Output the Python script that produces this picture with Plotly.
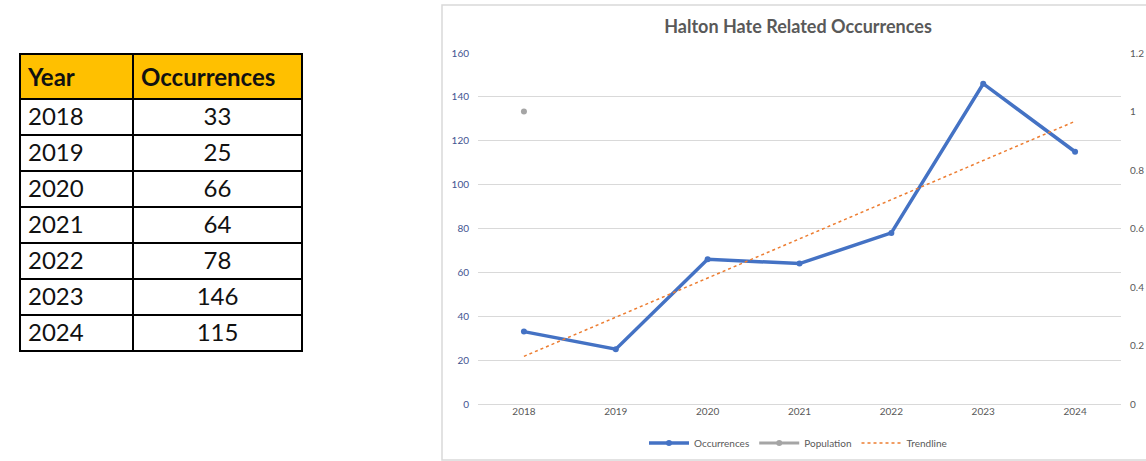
import numpy as np
import plotly.graph_objects as go

W, H = 1146, 461

years = ["2018", "2019", "2020", "2021", "2022", "2023", "2024"]
occurrences = [33, 25, 66, 64, 78, 146, 115]
population = [1, None, None, None, None, None, None]
table_headers = ["Year", "Occurrences"]

# linear trendline of occurrences (Excel-style)
xi = np.arange(1, len(occurrences) + 1)
slope, intercept = np.polyfit(xi, occurrences, 1)
trend = list(slope * xi + intercept)

def px(x):
    return x / W

def py(y):
    return 1 - y / H

FONT = "Lato"

fig = go.Figure()

fig.add_trace(go.Table(
    domain=dict(x=[px(20), px(302)], y=[py(420), py(54)]),
    columnwidth=[113, 169],
    header=dict(
        values=[f"<b>{h}</b>" for h in table_headers],
        fill_color="#FFC000",
        line=dict(color="#000000", width=2),
        font=dict(family=FONT, size=24, color="#111111"),
        align=["left", "left"],
        height=38,
    ),
    cells=dict(
        values=[years, [str(v) for v in occurrences]],
        fill_color="white",
        line=dict(color="#000000", width=2),
        font=dict(family=FONT, size=24, color="#111111"),
        align=["left", "center"],
        height=36,
    ),
))

fig.add_trace(go.Scatter(
    x=years, y=occurrences, name="Occurrences", mode="lines+markers",
    line=dict(color="#4472C4", width=3.5),
    marker=dict(size=6, color="#4472C4"),
    xaxis="x", yaxis="y",
))
fig.add_trace(go.Scatter(
    x=years, y=population, name="Population", mode="lines+markers",
    line=dict(color="#A5A5A5", width=3),
    marker=dict(size=6, color="#A5A5A5"),
    xaxis="x", yaxis="y2",
))
fig.add_trace(go.Scatter(
    x=years, y=trend, name="Trendline", mode="lines",
    line=dict(color="#ED7D31", width=1.5, dash="dot"),
    xaxis="x", yaxis="y",
))

fig.update_layout(
    width=W, height=H,
    margin=dict(l=0, r=0, t=0, b=0, autoexpand=False),
    paper_bgcolor="white", plot_bgcolor="white",
    font=dict(family=FONT, color="#595959"),
    title=dict(
        text="<b>Halton Hate Related Occurrences</b>",
        x=px(798), xanchor="center", y=py(27), yanchor="middle",
        font=dict(family=FONT, size=18, color="#595959"),
    ),
    xaxis=dict(
        domain=[px(478), px(1121)],
        type="category", range=[-0.5, 6.5],
        showgrid=False, showline=False, zeroline=False,
        ticks="", tickfont=dict(size=10, color="#595959"),
    ),
    yaxis=dict(
        domain=[py(404), py(53)],
        range=[0, 160], dtick=20,
        showgrid=True, gridcolor="#D9D9D9", gridwidth=1,
        zeroline=True, zerolinecolor="#D9D9D9", zerolinewidth=1,
        showline=False, ticks="", ticklabelstandoff=8,
        tickfont=dict(size=10, color="#3F5491"),
    ),
    yaxis2=dict(
        overlaying="y", side="right", anchor="x",
        range=[0, 1.2], dtick=0.2,
        showgrid=False, zeroline=False, showline=False, ticks="",
        ticklabelstandoff=8,
        tickfont=dict(size=10, color="#595959"),
    ),
    legend=dict(
        orientation="h", x=px(798), xanchor="center",
        y=py(443), yanchor="middle",
        font=dict(size=10, color="#595959"),
        bgcolor="rgba(0,0,0,0)",
        itemwidth=40,
    ),
    shapes=[dict(
        type="rect", xref="paper", yref="paper",
        x0=px(442), x1=px(1160), y0=py(460), y1=py(5),
        line=dict(color="#D9D9D9", width=1.5), fillcolor="rgba(0,0,0,0)",
        layer="below",
    )],
)

fig.write_html("out.html")
